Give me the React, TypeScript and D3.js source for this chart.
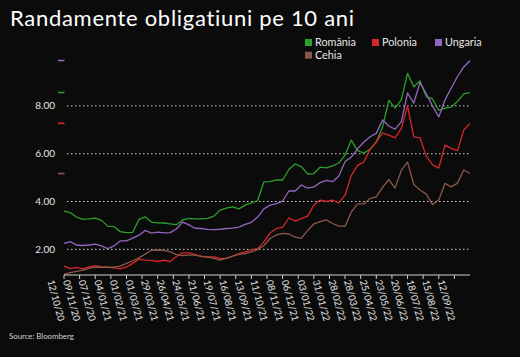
import React, { useEffect } from 'react';
import * as d3 from 'd3';

const W = 520;
const H = 357;

// trading days between samples
const STEP_DAYS = 8;

const tickLabels = [
  '12/10/20', '09/11/20', '07/12/20', '04/01/21', '01/02/21', '01/03/21', '29/03/21',
  '26/04/21', '24/05/21', '21/06/21', '19/07/21', '16/08/21', '13/09/21', '11/10/21',
  '08/11/21', '06/12/21', '03/01/22', '31/01/22', '28/02/22', '28/03/22', '25/04/22',
  '23/05/22', '20/06/22', '18/07/22', '15/08/22', '12/09/22',
];
const yTicks = [2, 4, 6, 8];
const seriesNames = ['România', 'Polonia', 'Ungaria', 'Cehia'];
const seriesColors = ['#2ca02c', '#d62728', '#9467bd', '#8c564b'];

const romania = [
  3.60, 3.53, 3.35, 3.25, 3.27, 3.30, 3.21, 2.97, 2.95, 2.74, 2.70, 2.71, 3.25, 3.36, 3.14, 3.11,
  3.10, 3.06, 3.03, 3.23, 3.29, 3.27, 3.27, 3.29, 3.39, 3.64, 3.72, 3.78, 3.69, 3.85, 3.94, 4.04,
  4.82, 4.83, 4.90, 4.90, 5.34, 5.57, 5.46, 5.15, 5.17, 5.44, 5.41, 5.49, 5.61, 5.95, 6.57, 6.13,
  6.03, 6.18, 6.49, 7.12, 8.23, 7.91, 8.25, 9.36, 8.80, 9.04, 8.39, 8.29, 7.81, 7.91, 7.95, 8.18,
  8.50, 8.56,
];
const polonia = [
  1.30, 1.19, 1.24, 1.18, 1.26, 1.32, 1.26, 1.25, 1.22, 1.18, 1.26, 1.41, 1.59, 1.55, 1.54, 1.49,
  1.55, 1.49, 1.70, 1.85, 1.85, 1.78, 1.71, 1.68, 1.68, 1.62, 1.62, 1.72, 1.82, 1.89, 1.98, 2.03,
  2.31, 2.68, 2.87, 2.93, 3.31, 3.18, 3.28, 3.39, 3.85, 4.06, 4.00, 4.06, 3.94, 4.27, 5.09, 5.51,
  5.65, 6.18, 6.49, 6.87, 6.78, 6.66, 7.05, 8.00, 6.70, 6.66, 5.90, 5.53, 5.40, 6.36, 6.22, 6.13,
  6.99, 7.27,
];
const ungaria = [
  2.25, 2.32, 2.18, 2.16, 2.18, 2.22, 2.14, 2.03, 2.14, 2.35, 2.35, 2.47, 2.59, 2.79, 2.68, 2.72,
  2.69, 2.70, 2.85, 3.14, 3.02, 2.88, 2.87, 2.83, 2.82, 2.84, 2.87, 2.89, 2.93, 3.04, 3.13, 3.35,
  3.69, 3.85, 3.91, 4.02, 4.44, 4.44, 4.69, 4.56, 4.61, 4.79, 4.88, 4.83, 5.07, 5.67, 5.86, 6.20,
  6.49, 6.71, 6.85, 7.41, 7.16, 7.03, 7.33, 8.54, 8.12, 8.98, 8.50, 8.00, 7.54, 8.25, 8.75, 9.23,
  9.63, 9.90,
];
const cehia = [
  0.95, 1.02, 1.08, 1.13, 1.20, 1.25, 1.25, 1.25, 1.25, 1.30, 1.41, 1.52, 1.64, 1.80, 1.96, 1.97,
  1.96, 1.89, 1.78, 1.74, 1.76, 1.76, 1.69, 1.67, 1.62, 1.55, 1.62, 1.71, 1.79, 1.82, 1.89, 1.99,
  2.16, 2.45, 2.60, 2.67, 2.64, 2.51, 2.46, 2.79, 3.06, 3.16, 3.23, 3.08, 2.97, 2.97, 3.56, 3.90,
  3.90, 4.13, 4.19, 4.59, 4.92, 4.56, 5.30, 5.65, 4.71, 4.48, 4.31, 3.87, 4.06, 4.76, 4.61, 4.77,
  5.32, 5.17,
];
const seriesValues = [romania, polonia, ungaria, cehia];

const FONT = 'Lato, "Noto Sans", sans-serif';

export default function App() {
  useEffect(() => {
    document.body.style.margin = '0';
    document.body.style.background = '#0b0b0b';
  }, []);

  const lastDay = (romania.length - 1) * STEP_DAYS;
  const x = d3.scaleLinear().domain([0, lastDay]).range([64, 470]);
  const y = d3.scaleLinear().domain([0.925, 10]).range([275, 58.1]);

  const line = d3
    .line<number>()
    .x((_, i) => x(i * STEP_DAYS))
    .y((d) => y(d));

  const tickDays = d3.range(0, 501, 20);
  const labelDays = tickLabels.map((_, k) => (k - 1) * 20);

  const legendCols = [305, 372, 435];

  return (
    <svg width={W} height={H} style={{ display: 'block', background: '#0b0b0b' }} fontFamily={FONT}>
      <rect x={0} y={0} width={W} height={H} fill="#0b0b0b" />
      <text x={10} y={25.5} fill="#ffffff" fontSize={22} letterSpacing={0.7}>
        Randamente obligatiuni pe 10 ani
      </text>

      {/* legend */}
      {seriesNames.map((name, i) => {
        const col = i % 3;
        const row = Math.floor(i / 3);
        const lx = legendCols[col];
        const ly = 39 + row * 12.7;
        return (
          <g key={name}>
            <rect x={lx} y={ly} width={7} height={7} fill={seriesColors[i]} />
            <text x={lx + 10} y={ly + 7} fill="#e6e6e6" fontSize={10.8}>
              {name}
            </text>
          </g>
        );
      })}

      {/* grid */}
      {yTicks.map((t) => (
        <g key={t}>
          <line
            x1={67}
            x2={470}
            y1={y(t)}
            y2={y(t)}
            stroke="#d0d0d0"
            strokeWidth={1}
            strokeDasharray="1.5,2.5"
          />
          <text x={55} y={y(t) + 3.4} fill="#e6e6e6" fontSize={10} textAnchor="end">
            {t.toFixed(2)}
          </text>
        </g>
      ))}

      {/* last value markers */}
      {seriesValues.map((vals, i) => (
        <line
          key={i}
          x1={58}
          x2={64.5}
          y1={y(vals[vals.length - 1])}
          y2={y(vals[vals.length - 1])}
          stroke={seriesColors[i]}
          strokeWidth={1.6}
        />
      ))}

      {/* lines */}
      {seriesValues.map((vals, i) => (
        <path
          key={seriesNames[i]}
          d={line(vals) || ''}
          fill="none"
          stroke={seriesColors[i]}
          strokeWidth={1.3}
          strokeLinejoin="round"
        />
      ))}

      {/* x axis */}
      <line x1={x(0)} x2={x(lastDay)} y1={275} y2={275} stroke="#d0d0d0" strokeWidth={1} />
      {tickDays.map((d) => (
        <line key={d} x1={x(d)} x2={x(d)} y1={275} y2={279} stroke="#d0d0d0" strokeWidth={1} />
      ))}
      {tickLabels.map((lab, k) => (
        <text
          key={lab}
          transform={`translate(${x(labelDays[k]) - 1},${281}) rotate(75)`}
          fill="#e6e6e6"
          fontSize={9.6}
          textAnchor="start"
        >
          {lab}
        </text>
      ))}

      <text x={9} y={338.5} fill="#d0d0d0" fontSize={7.8}>
        Source: Bloomberg
      </text>
    </svg>
  );
}
